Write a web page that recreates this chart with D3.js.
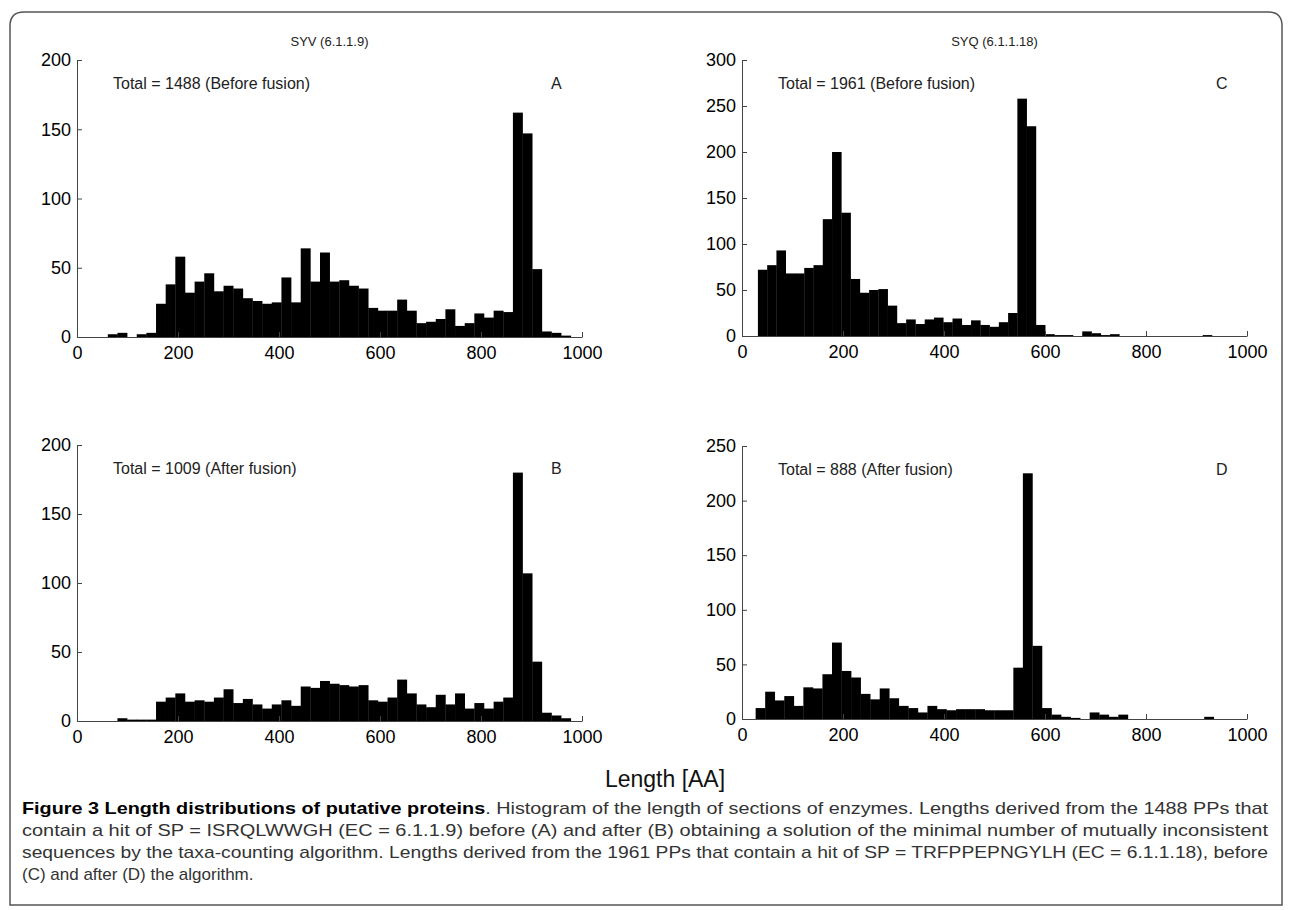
<!DOCTYPE html>
<html>
<head>
<meta charset="utf-8">
<script src="https://cdnjs.cloudflare.com/ajax/libs/d3/7.8.5/d3.min.js"></script>
<style>
body { margin: 0; background: #fff; }
svg text { font-family: "Liberation Sans", Arial, sans-serif; }
</style>
</head>
<body>
<div id="chart"></div>
<script>
// histogram data (counts per bin)
var panelNames = ["A", "B", "C", "D"];
var panelTitles = ["SYV (6.1.1.9)", "", "SYQ (6.1.1.18)", ""];
var totalLabels = ["Total = 1488 (Before fusion)", "Total = 1009 (After fusion)",
    "Total = 1961 (Before fusion)", "Total = 888 (After fusion)"];
var yMaxList = [200, 200, 300, 250];
var yTickStep = 50;
var xTickLabels = [0, 200, 400, 600, 800, 1000];
var binStartList = [61, 61, 31.5, 27];
var binWidthList = [19.1, 19.1, 18.35, 18.9];

var countsA = [2, 3, 0, 2, 3, 24, 38, 58, 32, 40, 46, 33, 37, 35, 28, 26, 24, 25, 43, 25,
    64, 40, 61, 40, 41, 37, 35, 21, 19, 19, 27, 19, 10, 11, 13, 20, 8, 10, 17, 14,
    19, 18, 162, 147, 49, 4, 3, 1, 0, 0];
var countsB = [0, 2, 1, 1, 1, 14, 17, 20, 14, 15, 14, 17, 23, 13, 16, 12, 9, 12, 15, 11,
    25, 24, 29, 27, 26, 25, 26, 15, 14, 17, 30, 20, 12, 10, 19, 12, 20, 9, 13, 9,
    14, 17, 180, 107, 43, 6, 4, 2, 0, 0];
var countsC = [72, 77, 93, 68, 68, 74, 77, 127, 200, 134, 62, 47, 50, 51, 33, 14, 18, 13, 18, 20,
    15, 19, 12, 17, 12, 10, 15, 25, 258, 228, 12, 2, 1, 1, 0, 5, 3, 1, 2, 0,
    0, 0, 0, 0, 0, 0, 0, 0, 1, 0];
var countsD = [10, 25, 17, 21, 12, 29, 28, 41, 70, 44, 38, 23, 18, 28, 19, 12, 10, 6, 12, 9,
    8, 9, 9, 9, 8, 8, 8, 47, 225, 67, 10, 4, 2, 1, 0, 6, 4, 2, 4, 0,
    0, 0, 0, 0, 0, 0, 0, 2, 0, 0];
var countsList = [countsA, countsB, countsC, countsD];

var xAxisLabel = "Length [AA]";
var captionBold = "Figure 3 Length distributions of putative proteins";
var captionLines = [
    ". Histogram of the length of sections of enzymes. Lengths derived from the 1488 PPs that",
    "contain a hit of SP = ISRQLWWGH (EC = 6.1.1.9) before (A) and after (B) obtaining a solution of the minimal number of mutually inconsistent",
    "sequences by the taxa-counting algorithm. Lengths derived from the 1961 PPs that contain a hit of SP = TRFPPEPNGYLH (EC = 6.1.1.18), before",
    "(C) and after (D) the algorithm."
];

var svgWidth = 1290;
var svgHeight = 910;

var svg = d3.select("#chart").append("svg")
    .attr("width", svgWidth)
    .attr("height", svgHeight);

// frame round the figure
svg.append("path")
    .attr("d", "M10,905 L10,26 Q10,12 24,12 L1268,12 Q1282,12 1282,26 L1282,905 Z")
    .attr("fill", "none")
    .attr("stroke", "#555")
    .attr("stroke-width", 1.5);

// plot boxes: left, right, top (ymax), bottom (0)
var panelBox = [
    { left: 77, right: 582, top: 60, bottom: 337 },
    { left: 77, right: 582, top: 445, bottom: 721 },
    { left: 742, right: 1247, top: 60, bottom: 336 },
    { left: 742, right: 1247, top: 446, bottom: 719 }
];

panelNames.forEach(function(name, i) {
    var box = panelBox[i];
    var counts = countsList[i];
    var binStart = binStartList[i];
    var binWidth = binWidthList[i];

    var x = d3.scaleLinear().domain([0, 1000]).range([box.left, box.right]);
    var y = d3.scaleLinear().domain([0, yMaxList[i]]).range([box.bottom, box.top]);

    var g = svg.append("g").attr("class", "panel-" + name);

    g.selectAll("rect.bar")
        .data(counts)
        .enter().append("rect")
        .attr("class", "bar")
        .attr("x", function(d, k) { return x(binStart + k * binWidth); })
        .attr("width", x(binWidth) - x(0) + 0.3)
        .attr("y", function(d) { return y(d); })
        .attr("height", function(d) { return y(0) - y(d); })
        .attr("fill", "#000");

    var yAxis = d3.axisLeft(y)
        .tickValues(d3.range(0, yMaxList[i] + 1, yTickStep))
        .tickFormat(d3.format("d"))
        .tickSizeInner(-5)
        .tickSizeOuter(0)
        .tickPadding(6);
    var xAxis = d3.axisBottom(x)
        .tickValues(xTickLabels)
        .tickFormat(d3.format("d"))
        .tickSizeInner(-5)
        .tickSizeOuter(0)
        .tickPadding(9);

    var gy = g.append("g")
        .attr("transform", "translate(" + box.left + ",0)")
        .call(yAxis);
    var gx = g.append("g")
        .attr("transform", "translate(0," + box.bottom + ")")
        .call(xAxis);

    [gx, gy].forEach(function(ax) {
        ax.attr("font-size", 18).attr("font-family", null);
        ax.select(".domain").attr("stroke", "#444");
        ax.selectAll(".tick line").attr("stroke", "#444");
        ax.selectAll(".tick text").attr("fill", "#000");
    });

    if (panelTitles[i]) {
        g.append("text")
            .attr("x", (box.left + box.right) / 2)
            .attr("y", box.top - 14)
            .attr("text-anchor", "middle")
            .attr("font-size", 13)
            .attr("fill", "#222")
            .text(panelTitles[i]);
    }

    g.append("text")
        .attr("x", box.left + 36)
        .attr("y", box.top + 29)
        .attr("font-size", 16)
        .attr("fill", "#222")
        .text(totalLabels[i]);

    g.append("text")
        .attr("x", box.left + 474)
        .attr("y", box.top + 29)
        .attr("font-size", 16)
        .attr("fill", "#222")
        .text(name);
});

svg.append("text")
    .attr("x", 665)
    .attr("y", 787)
    .attr("text-anchor", "middle")
    .attr("font-size", 23)
    .attr("fill", "#111")
    .text(xAxisLabel);

// caption, justified lines
var capTop = 814;
var capStep = 22;
captionLines.forEach(function(line, i) {
    var t = svg.append("text")
        .attr("x", 22)
        .attr("y", capTop + i * capStep)
        .attr("font-size", 17)
        .attr("fill", "#333");
    if (i < 3) {
        t.attr("textLength", 1246).attr("lengthAdjust", "spacingAndGlyphs");
    }
    if (i == 0) {
        t.append("tspan").attr("font-weight", "bold").attr("fill", "#000").text(captionBold);
    }
    t.append("tspan").text(line);
});
</script>
</body>
</html>
